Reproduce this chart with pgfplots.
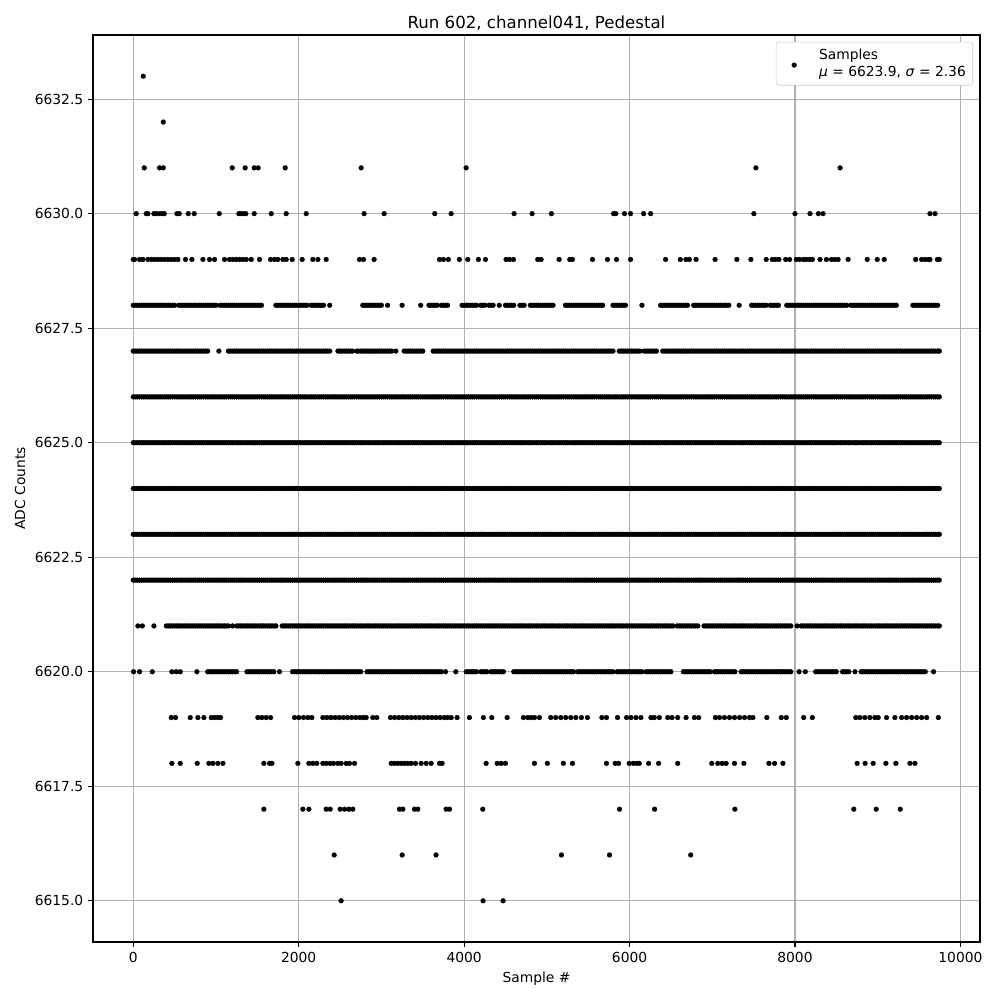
\documentclass[border=0pt]{standalone}
\usepackage{fontspec}
\setmainfont{DejaVu Sans}
\usepackage{pgfplots}
\usepackage{pgfplotstable}
\pgfplotsset{compat=1.18}
\definecolor{gridc}{HTML}{B0B0B0}
\definecolor{legc}{HTML}{CCCCCC}

% dense rows (6622-6626)
\pgfplotstableread[row sep=\\]{
x\\
0\\25\\50\\75\\100\\125\\150\\175\\200\\225\\250\\275\\300\\325\\350\\375\\400\\425\\450\\475\\500\\525\\550\\575\\600\\625\\650\\675\\700\\725\\750\\775\\800\\825\\850\\875\\900\\925\\950\\975\\
1000\\1025\\1050\\1075\\1100\\1125\\1150\\1175\\1200\\1225\\1250\\1275\\1300\\1325\\1350\\1375\\1400\\1425\\1450\\1475\\1500\\1525\\1550\\1575\\1600\\1625\\1650\\1675\\1700\\1725\\1750\\1775\\1800\\1825\\1850\\1875\\1900\\1925\\1950\\1975\\
2000\\2025\\2050\\2075\\2100\\2125\\2150\\2175\\2200\\2225\\2250\\2275\\2300\\2325\\2350\\2375\\2400\\2425\\2450\\2475\\2500\\2525\\2550\\2575\\2600\\2625\\2650\\2675\\2700\\2725\\2750\\2775\\2800\\2825\\2850\\2875\\2900\\2925\\2950\\2975\\
3000\\3025\\3050\\3075\\3100\\3125\\3150\\3175\\3200\\3225\\3250\\3275\\3300\\3325\\3350\\3375\\3400\\3425\\3450\\3475\\3500\\3525\\3550\\3575\\3600\\3625\\3650\\3675\\3700\\3725\\3750\\3775\\3800\\3825\\3850\\3875\\3900\\3925\\3950\\3975\\
4000\\4025\\4050\\4075\\4100\\4125\\4150\\4175\\4200\\4225\\4250\\4275\\4300\\4325\\4350\\4375\\4400\\4425\\4450\\4475\\4500\\4525\\4550\\4575\\4600\\4625\\4650\\4675\\4700\\4725\\4750\\4775\\4800\\4825\\4850\\4875\\4900\\4925\\4950\\4975\\
5000\\5025\\5050\\5075\\5100\\5125\\5150\\5175\\5200\\5225\\5250\\5275\\5300\\5325\\5350\\5375\\5400\\5425\\5450\\5475\\5500\\5525\\5550\\5575\\5600\\5625\\5650\\5675\\5700\\5725\\5750\\5775\\5800\\5825\\5850\\5875\\5900\\5925\\5950\\5975\\
6000\\6025\\6050\\6075\\6100\\6125\\6150\\6175\\6200\\6225\\6250\\6275\\6300\\6325\\6350\\6375\\6400\\6425\\6450\\6475\\6500\\6525\\6550\\6575\\6600\\6625\\6650\\6675\\6700\\6725\\6750\\6775\\6800\\6825\\6850\\6875\\6900\\6925\\6950\\6975\\
7000\\7025\\7050\\7075\\7100\\7125\\7150\\7175\\7200\\7225\\7250\\7275\\7300\\7325\\7350\\7375\\7400\\7425\\7450\\7475\\7500\\7525\\7550\\7575\\7600\\7625\\7650\\7675\\7700\\7725\\7750\\7775\\7800\\7825\\7850\\7875\\7900\\7925\\7950\\7975\\
8000\\8025\\8050\\8075\\8100\\8125\\8150\\8175\\8200\\8225\\8250\\8275\\8300\\8325\\8350\\8375\\8400\\8425\\8450\\8475\\8500\\8525\\8550\\8575\\8600\\8625\\8650\\8675\\8700\\8725\\8750\\8775\\8800\\8825\\8850\\8875\\8900\\8925\\8950\\8975\\
9000\\9025\\9050\\9075\\9100\\9125\\9150\\9175\\9200\\9225\\9250\\9275\\9300\\9325\\9350\\9375\\9400\\9425\\9450\\9475\\9500\\9525\\9550\\9575\\9600\\9625\\9650\\9675\\9700\\9725\\9745\\
}\tfull

% 6627
\pgfplotstableread[row sep=\\]{
x\\
0\\25\\50\\75\\100\\125\\150\\175\\200\\225\\250\\275\\300\\325\\350\\375\\400\\425\\450\\475\\500\\525\\550\\575\\600\\625\\650\\675\\700\\725\\750\\775\\800\\825\\850\\875\\900\\1035\\
1150\\1175\\1200\\1225\\1250\\1275\\1300\\1325\\1350\\1375\\1400\\1425\\1450\\1475\\1500\\1525\\1550\\1575\\1600\\1625\\1650\\1675\\1700\\1725\\1750\\1775\\1800\\1825\\1850\\1875\\1900\\1925\\1950\\1975\\
2000\\2025\\2050\\2075\\2100\\2125\\2150\\2175\\2200\\2225\\2250\\2275\\2300\\2325\\2350\\2375\\2475\\2500\\2525\\2550\\2575\\2600\\2625\\2650\\
2700\\2725\\2750\\2775\\2800\\2825\\2850\\2875\\2900\\2925\\2950\\2975\\3000\\3025\\3050\\3075\\3100\\3125\\3175\\
3275\\3300\\3325\\3350\\3375\\3400\\3425\\3450\\3475\\3500\\3625\\3650\\3675\\3700\\3725\\3750\\3775\\3800\\3825\\3850\\3875\\3900\\3925\\3950\\3975\\
4000\\4025\\4050\\4075\\4100\\4125\\4150\\4175\\4200\\4225\\4250\\4275\\4300\\4325\\4350\\4375\\4400\\4425\\4450\\4475\\4500\\4525\\4550\\4575\\4600\\4625\\4650\\4675\\4700\\4725\\4750\\4775\\4800\\4825\\4850\\4875\\4900\\4925\\4950\\4975\\
5000\\5025\\5050\\5075\\5100\\5125\\5150\\5175\\5200\\5225\\5250\\5275\\5300\\5325\\5350\\5375\\5400\\5425\\5450\\5475\\5500\\5525\\5550\\5575\\5600\\5625\\5650\\5675\\5700\\5725\\5750\\5775\\5800\\
5875\\5900\\5925\\5950\\5975\\6000\\6025\\6050\\6075\\6100\\6125\\6175\\6200\\6225\\6250\\6275\\6300\\6325\\
6400\\6425\\6450\\6475\\6500\\6525\\6550\\6575\\6600\\6625\\6650\\6675\\6700\\6725\\6750\\6775\\6800\\6825\\6850\\6875\\6900\\6925\\6950\\6975\\
7000\\7025\\7050\\7075\\7100\\7125\\7150\\7175\\7200\\7225\\7250\\7275\\7300\\7325\\7350\\7375\\7400\\7425\\7450\\7475\\7500\\7525\\7550\\7575\\7600\\7625\\7650\\7675\\7700\\7725\\7750\\7775\\7800\\7825\\7850\\7875\\7900\\7925\\7950\\7975\\
8000\\8025\\8050\\8075\\8100\\8125\\8150\\8175\\8200\\8225\\8250\\8275\\8300\\8325\\8350\\8375\\8400\\8425\\8450\\8475\\8500\\8525\\8550\\8575\\8600\\8625\\8650\\8675\\8700\\8725\\8750\\8775\\8800\\8825\\8850\\8875\\8900\\8925\\8950\\8975\\
9000\\9025\\9050\\9075\\9100\\9125\\9150\\9175\\9200\\9225\\9250\\9275\\9300\\9325\\9350\\9375\\9400\\9425\\9450\\9475\\9500\\9525\\9550\\9575\\9600\\9625\\9650\\9675\\9700\\9725\\9745\\
}\tC

% 6621
\pgfplotstableread[row sep=\\]{
x\\
56\\110\\250\\400\\425\\450\\475\\500\\525\\550\\575\\600\\625\\650\\675\\700\\725\\750\\775\\800\\825\\850\\875\\900\\925\\950\\975\\1000\\1025\\1050\\1075\\1100\\1125\\1150\\1200\\
1250\\1275\\1300\\1325\\1350\\1375\\1400\\1425\\1450\\1475\\1500\\1525\\1550\\1575\\1600\\1625\\1650\\1675\\1700\\1725\\1800\\1825\\1850\\1875\\1900\\1925\\1950\\1975\\
2000\\2025\\2050\\2075\\2100\\2125\\2150\\2175\\2200\\2225\\2250\\2275\\2300\\2325\\2350\\2375\\2400\\2425\\2450\\2475\\2500\\2525\\2550\\2575\\2600\\2625\\2650\\2675\\2700\\2725\\2750\\2775\\2800\\2825\\2850\\2875\\2900\\2925\\2950\\2975\\
3000\\3025\\3050\\3075\\3100\\3125\\3150\\3175\\3200\\3225\\3250\\3275\\3300\\3325\\3350\\3375\\3400\\3425\\3450\\3475\\3500\\3525\\3550\\3575\\3600\\3625\\3650\\3675\\3700\\3725\\3750\\3775\\3800\\3825\\3850\\3875\\3900\\3925\\3950\\3975\\
4000\\4025\\4050\\4075\\4100\\4125\\4150\\4175\\4200\\4225\\4250\\4275\\4300\\4325\\4350\\4375\\4400\\4425\\4450\\4475\\4500\\4525\\4550\\4575\\4600\\4625\\4650\\4675\\4700\\4725\\4750\\4775\\4800\\4825\\4850\\4875\\4900\\4925\\4950\\4975\\
5000\\5025\\5050\\5075\\5100\\5125\\5150\\5175\\5200\\5225\\5250\\5275\\5300\\5325\\5350\\5375\\5400\\5425\\5450\\5475\\5500\\5525\\5550\\5575\\5600\\5625\\5650\\5675\\5700\\5725\\5750\\5775\\5800\\5825\\5850\\5875\\5900\\5925\\5950\\5975\\
6000\\6025\\6050\\6075\\6100\\6125\\6150\\6175\\6200\\6225\\6250\\6275\\6300\\6325\\6350\\6375\\6400\\6425\\6450\\6475\\6500\\6525\\6575\\6600\\6625\\6650\\6675\\6700\\6725\\6750\\6775\\6800\\6825\\
6900\\6925\\6950\\6975\\7000\\7025\\7050\\7075\\7100\\7125\\7150\\7175\\7200\\7225\\7250\\7275\\7300\\7325\\7350\\7375\\7400\\7425\\7450\\7475\\7500\\7525\\7550\\7575\\7600\\7625\\7650\\7675\\7700\\7725\\7750\\7775\\7800\\7825\\7850\\7875\\7900\\7925\\7950\\8025\\
8075\\8100\\8125\\8150\\8175\\8200\\8225\\8250\\8275\\8300\\8325\\8350\\8375\\8400\\8425\\8450\\8475\\8500\\8525\\8550\\8575\\8600\\8625\\8650\\8675\\8700\\8725\\8750\\8775\\8800\\8825\\8850\\8875\\8900\\8925\\8950\\8975\\
9000\\9025\\9050\\9075\\9100\\9125\\9150\\9175\\9200\\9225\\9250\\9275\\9300\\9325\\9350\\9375\\9400\\9425\\9450\\9475\\9500\\9525\\9550\\9575\\9600\\9625\\9650\\9675\\9700\\9725\\9745\\
}\tD

% 6628
\pgfplotstableread[row sep=\\]{
x\\
0\\25\\50\\75\\100\\125\\150\\175\\200\\225\\250\\275\\300\\325\\350\\375\\400\\425\\450\\475\\500\\
550\\575\\600\\625\\650\\675\\700\\725\\750\\775\\800\\825\\850\\875\\900\\925\\950\\975\\1000\\
1050\\1075\\1100\\1125\\1150\\1175\\1200\\1225\\1250\\1275\\1300\\1325\\1350\\1375\\1400\\1425\\1450\\1475\\1500\\1525\\1550\\
1725\\1750\\1775\\1800\\1825\\1850\\1875\\1900\\1925\\1950\\1975\\2000\\2025\\2050\\2075\\2100\\
2150\\2175\\2200\\2225\\2250\\2275\\2300\\2375\\2775\\2800\\2825\\2850\\2875\\2900\\2925\\2950\\2975\\3000\\
3075\\3250\\3475\\3575\\3600\\3625\\3650\\3675\\3725\\3750\\3775\\3800\\
3975\\4000\\4025\\4050\\4075\\4100\\4125\\4150\\4200\\4225\\4250\\4300\\4325\\4350\\4425\\4500\\4525\\4550\\4575\\4600\\4675\\4700\\4725\\
4800\\4825\\4850\\4875\\4900\\4925\\4950\\4975\\5000\\5025\\5050\\5075\\
5225\\5250\\5275\\5300\\5325\\5350\\5375\\5400\\5425\\5450\\5475\\5500\\5525\\5550\\5575\\5600\\5625\\5650\\5675\\
5800\\5825\\5850\\5875\\5900\\5925\\5950\\6150\\
6375\\6400\\6425\\6450\\6475\\6500\\6525\\6550\\6575\\6600\\6625\\6650\\6675\\6700\\
6775\\6800\\6825\\6850\\6875\\6900\\6925\\6950\\6975\\7000\\7025\\7050\\7075\\7100\\7125\\7150\\7175\\7200\\7325\\
7475\\7500\\7525\\7550\\7575\\7600\\7625\\7650\\7700\\7725\\7750\\7775\\7800\\
7900\\7925\\7950\\7975\\8000\\8025\\8050\\8075\\8100\\8125\\8150\\8175\\8200\\8225\\8250\\8275\\8300\\8325\\8350\\8375\\8400\\8425\\8450\\8475\\8500\\8525\\8550\\8575\\8600\\8625\\
8675\\8700\\8725\\8750\\8775\\8800\\8825\\8850\\8875\\8900\\8925\\8950\\8975\\9000\\9025\\9050\\9075\\9100\\9125\\9150\\9175\\9200\\9225\\
9425\\9450\\9475\\9500\\9525\\9550\\9575\\9600\\9625\\9650\\9675\\9700\\9725\\
}\tE

% 6620
\pgfplotstableread[row sep=\\]{
x\\
4\\77\\230\\467\\520\\568\\769\\900\\925\\950\\975\\1000\\1025\\1050\\1075\\1100\\1125\\1150\\1175\\1200\\1225\\1250\\
1375\\1400\\1425\\1450\\1475\\1500\\1525\\1550\\1575\\1600\\1625\\1650\\1675\\1700\\1768\\
1925\\1950\\1975\\2000\\2025\\2050\\2075\\2100\\2125\\2150\\2175\\2200\\2225\\2250\\2275\\2300\\2325\\2350\\2375\\2400\\2425\\2450\\2475\\2500\\2525\\2550\\2575\\2600\\2625\\2650\\2675\\2700\\2725\\2750\\
2825\\2850\\2875\\2900\\2925\\2950\\2975\\3000\\3025\\3050\\3075\\3100\\3125\\3150\\3175\\3200\\3225\\3250\\3275\\3300\\3325\\3350\\3375\\3400\\3425\\3450\\3475\\3500\\3525\\3550\\3575\\3600\\3625\\3650\\3675\\3700\\3725\\
3775\\3900\\4025\\4050\\4075\\4100\\4125\\4150\\4200\\4225\\4250\\4275\\4325\\4350\\4375\\4400\\4425\\4450\\4475\\
4600\\4625\\4650\\4675\\4700\\4725\\4750\\4775\\4800\\4825\\4850\\4875\\4900\\4925\\4950\\4975\\5000\\5025\\5050\\5075\\5100\\5125\\5150\\5175\\5200\\5225\\5250\\5275\\5300\\5325\\
5375\\5400\\5425\\5450\\5475\\5500\\5525\\5550\\5575\\5600\\5625\\5650\\5675\\5700\\5725\\5750\\5775\\5800\\
5850\\5875\\5900\\5925\\5950\\5975\\6000\\6025\\6050\\6075\\6100\\6125\\6150\\
6200\\6225\\6250\\6275\\6300\\6325\\6350\\6375\\6400\\6425\\6450\\6475\\6500\\
6650\\6675\\6700\\6725\\6750\\6775\\6800\\6825\\6850\\6875\\6900\\6925\\6950\\6975\\
7025\\7050\\7075\\7100\\7125\\7150\\7175\\7200\\7225\\7250\\7275\\
7350\\7375\\7400\\7425\\7450\\7475\\7500\\7525\\7550\\7575\\7600\\7625\\7650\\7675\\7700\\7725\\7750\\7775\\7800\\7825\\7850\\7875\\7900\\7925\\7950\\
8050\\8125\\8250\\8275\\8300\\8325\\8350\\8375\\8400\\8425\\8450\\8475\\8500\\8575\\8600\\8625\\8650\\8725\\
8800\\8825\\8850\\8875\\8900\\8925\\8950\\8975\\9000\\9025\\9050\\9075\\9100\\9125\\9150\\9175\\9200\\9225\\9250\\9275\\9300\\9325\\9350\\9375\\9400\\9425\\9450\\9475\\9500\\9525\\9550\\9575\\9675\\
}\tF

% 6629
\pgfplotstableread[row sep=\\]{
x\\
0\\16\\77\\117\\177\\218\\258\\298\\338\\379\\419\\459\\499\\540\\632\\709\\842\\922\\983\\1104\\1164\\1204\\1245\\1285\\1325\\1366\\1426\\1527\\
1660\\1708\\1748\\1809\\1849\\1921\\2042\\2171\\2232\\2332\\2735\\2783\\2912\\3702\\3750\\3810\\3943\\4044\\4173\\4258\\4507\\4548\\4596\\4890\\4930\\
5148\\5277\\5309\\5552\\5733\\5842\\6012\\6436\\6614\\6682\\6723\\6804\\7034\\7297\\7467\\7652\\7725\\7765\\7806\\7887\\7935\\
8016\\8057\\8105\\8137\\8178\\8210\\8303\\8380\\8440\\8481\\8521\\8642\\8873\\8994\\9079\\9459\\9531\\9572\\9612\\9632\\9721\\9745\\
}\tG

% 6630
\pgfplotstableread[row sep=\\]{
x\\
36\\157\\177\\250\\278\\318\\346\\375\\528\\556\\665\\737\\1039\\1277\\1305\\1333\\1361\\1462\\1668\\1849\\2091\\2791\\3033\\3645\\3843\\4604\\4822\\
5055\\5806\\5834\\5939\\6012\\6170\\6255\\7503\\8000\\8182\\8283\\8339\\9632\\9693\\
}\tH

% 6631
\pgfplotstableread[row sep=\\]{
x\\
133\\318\\363\\1196\\1353\\1462\\1510\\1837\\2755\\4024\\7527\\8545\\
}\tI

% 6619
\pgfplotstableread[row sep=\\]{
x\\
459\\511\\689\\781\\854\\943\\983\\1023\\1055\\1506\\1555\\1607\\1660\\1950\\2002\\2058\\2111\\2159\\
2292\\2340\\2390\\2440\\2490\\2540\\2590\\2640\\2690\\2740\\2780\\2816\\2896\\2944\\
3110\\3160\\3210\\3260\\3310\\3360\\3410\\3460\\3510\\3560\\3610\\3660\\3710\\3760\\3800\\3843\\3915\\4064\\4233\\4334\\4520\\
4717\\4769\\4809\\4850\\4910\\5047\\5107\\5168\\5228\\5289\\5350\\5418\\5491\\5665\\5721\\5854\\5964\\6016\\6077\\6137\\
6259\\6299\\6360\\6461\\6513\\6582\\6683\\6784\\6836\\7038\\7087\\7147\\7208\\7269\\7330\\7390\\7451\\7491\\7660\\7834\\7895\\
8105\\8210\\8735\\8784\\8844\\8905\\8966\\9006\\9107\\9208\\9289\\9349\\9410\\9471\\9531\\9592\\9733\\
}\tJ

% 6618
\pgfplotstableread[row sep=\\]{
x\\
467\\568\\773\\914\\963\\1023\\1084\\1579\\1648\\1676\\1990\\2123\\2171\\2219\\2292\\2332\\2380\\2421\\2473\\2513\\2574\\2614\\2675\\
3118\\3158\\3198\\3239\\3279\\3319\\3359\\3412\\3480\\3541\\3601\\3702\\3734\\4266\\4399\\4447\\4499\\4850\\
5006\\5200\\5309\\5721\\5826\\5867\\5996\\6044\\6085\\6117\\6230\\6351\\6582\\6994\\7066\\7119\\7167\\7269\\7382\\
7685\\7753\\7854\\8751\\8848\\8945\\9099\\9220\\9390\\9450\\
}\tK

% 6617
\pgfplotstableread[row sep=\\]{
x\\
1579\\2050\\2123\\2332\\2380\\2501\\2554\\2606\\2654\\3218\\3259\\3400\\3440\\3782\\3823\\4225\\5879\\6303\\7273\\8711\\8982\\9273\\
}\tL

% 6616
\pgfplotstableread[row sep=\\]{
x\\
2429\\3251\\3661\\5176\\5758\\6739\\
}\tM

% 6615
\pgfplotstableread[row sep=\\]{
x\\
2513\\4229\\4471\\
}\tN

% 6632 / 6633
\pgfplotstableread[row sep=\\]{
x\\
363\\
}\tO
\pgfplotstableread[row sep=\\]{
x\\
121\\
}\tP

\pgfplotsset{
  dots/.style={only marks, mark=*, mark size=1.75pt,
    mark options={fill=black, draw=black, line width=0.2pt}},
}

\begin{document}
\begin{tikzpicture}
\path[use as bounding box] (-67.2pt,-41.9pt) rectangle (655.5pt,680.8pt);
\begin{axis}[
  at={(0,0)}, anchor=south west,
  scale only axis, width=641pt, height=655.5pt,
  xmin=-487, xmax=10236, ymin=6614.1, ymax=6633.9,
  xtick={0,2000,4000,6000,8000,10000},
  ytick={6615,6617.5,6620,6622.5,6625,6627.5,6630,6632.5},
  xtick pos=bottom, ytick pos=left,
  scaled x ticks=false, scaled y ticks=false,
  xticklabel style={/pgf/number format/.cd, fixed, 1000 sep={}},
  yticklabel style={/pgf/number format/.cd, fixed, fixed zerofill, precision=1, 1000 sep={}},
  /pgf/number format/assume math mode=true,
  ticklabel style={font=\fontsize{10}{12}\selectfont},
  grid=major, grid style={color=gridc, line width=0.8pt},
  tick align=outside, major tick length=3.5pt,
  tick style={black, line width=0.8pt},
  axis line style={line width=0.8pt},
  title={Run 602, channel041, Pedestal},
  title style={font=\fontsize{12}{14}\selectfont, at={(0.5,1)}, anchor=base, yshift=-1pt},
  xlabel={Sample \#}, ylabel={ADC Counts},
  label style={font=\fontsize{10}{12}\selectfont},
  legend style={at={(1,1)}, anchor=north east, xshift=-5pt, yshift=-5pt,
    draw=legc, rounded corners=2pt, fill=white, font=\fontsize{10}{12}\selectfont,
    inner sep=3pt, cells={align=left}},
  legend cell align=left,
  legend image code/.code={
    \path[draw=none, fill=none] (0pt,-3pt) rectangle (26pt,3pt);
    \draw[#1, only marks] plot coordinates {(10pt,-1pt)};
  },
  table/x index=0, table/y index=0,
]
\addplot[dots] table[y expr=6625] {\tfull};
\addlegendentry{Samples\\\textit{μ} = 6623.9, \textit{σ} = 2.36}
\addplot[dots, forget plot] table[y expr=6623] {\tfull};
\addplot[dots, forget plot] table[y expr=6624] {\tfull};
\addplot[dots, forget plot] table[y expr=6626] {\tfull};
\addplot[dots, forget plot] table[y expr=6622] {\tfull};
\addplot[dots, forget plot] table[y expr=6627] {\tC};
\addplot[dots, forget plot] table[y expr=6621] {\tD};
\addplot[dots, forget plot] table[y expr=6628] {\tE};
\addplot[dots, forget plot] table[y expr=6620] {\tF};
\addplot[dots, forget plot] table[y expr=6629] {\tG};
\addplot[dots, forget plot] table[y expr=6630] {\tH};
\addplot[dots, forget plot] table[y expr=6631] {\tI};
\addplot[dots, forget plot] table[y expr=6619] {\tJ};
\addplot[dots, forget plot] table[y expr=6618] {\tK};
\addplot[dots, forget plot] table[y expr=6617] {\tL};
\addplot[dots, forget plot] table[y expr=6616] {\tM};
\addplot[dots, forget plot] table[y expr=6615] {\tN};
\addplot[dots, forget plot] table[y expr=6632] {\tO};
\addplot[dots, forget plot] table[y expr=6633] {\tP};
\end{axis}
\end{tikzpicture}
\end{document}
